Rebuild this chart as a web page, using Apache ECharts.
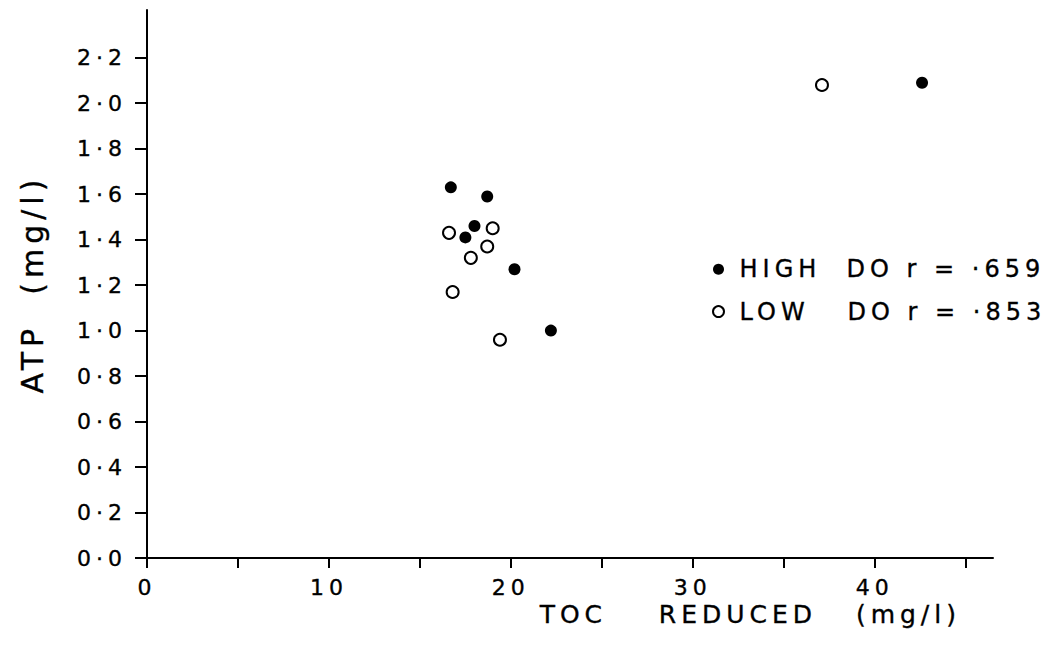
<!DOCTYPE html>
<html>
<head>
<meta charset="utf-8">
<style>
  html, body { margin: 0; padding: 0; background: #fff; }
  #chart { width: 1049px; height: 655px; }
  /* the original lettering is widely spaced */
  #chart text { letter-spacing: 5px; }
</style>
<script src="https://cdn.jsdelivr.net/npm/echarts@6/dist/echarts.min.js"></script>
</head>
<body>
<div id="chart"></div>
<script>
// values
const highDoToc = [16.7, 18.7, 18.0, 17.5, 20.2, 22.2, 42.6]
const highDoAtp = [1.63, 1.59, 1.46, 1.41, 1.27, 1.00, 2.09]
const lowDoToc = [16.6, 19.0, 18.7, 17.8, 16.8, 19.4, 37.1]
const lowDoAtp = [1.43, 1.45, 1.37, 1.32, 1.17, 0.96, 2.08]

const xTicks = [0, 5, 10, 15, 20, 25, 30, 35, 40, 45]
const xLabels = [0, 10, 20, 30, 40]
const yTicks = [0, 0.2, 0.4, 0.6, 0.8, 1.0, 1.2, 1.4, 1.6, 1.8, 2.0, 2.2]

const highName = 'HIGH  DO r = ·659'
const lowName = 'LOW   DO r = ·853'

const ink = '#000'
const font = 'DejaVu Sans'
// a little heavier than the plain font, like the pen lettering
const pen = { color: ink, fontFamily: font, textBorderColor: ink, textBorderWidth: 0.35 }

const chart = echarts.init(document.getElementById('chart'), null, { renderer: 'svg' })

const pairs = (xs, ys) => xs.map((x, i) => [x, ys[i]])

chart.setOption({
  animation: false,
  backgroundColor: '#fff',
  textStyle: { fontFamily: font, color: ink },
  grid: { left: 147, right: 56, top: 10, bottom: 97 },
  legend: {
    orient: 'vertical',
    left: 707,
    top: 252,
    itemGap: 18,
    itemWidth: 12,
    itemHeight: 11,
    textStyle: { ...pen, fontSize: 24, padding: [0, 0, 0, 10] },
    data: [
      { name: highName, icon: 'circle' },
      { name: lowName, icon: 'emptyCircle' }
    ]
  },
  xAxis: {
    type: 'value',
    min: 0,
    max: 46.5,
    name: 'TOC    REDUCED   (mg/l)',
    nameLocation: 'end',
    nameGap: -32,
    nameTextStyle: {
      ...pen, fontSize: 25,
      align: 'right', verticalAlign: 'top', padding: [44, 0, 0, 0]
    },
    splitLine: { show: false },
    axisLine: { lineStyle: { color: ink, width: 2 } },
    axisTick: { customValues: xTicks, length: 10, lineStyle: { color: ink, width: 2 } },
    axisLabel: { ...pen, customValues: xLabels, margin: 18, fontSize: 22 }
  },
  yAxis: {
    type: 'value',
    min: 0,
    max: 2.41,
    name: 'ATP  (mg/l)',
    nameLocation: 'middle',
    nameRotate: 90,
    nameGap: 100,
    nameTextStyle: { ...pen, fontSize: 30 },
    splitLine: { show: false },
    axisLine: { lineStyle: { color: ink, width: 2 } },
    axisTick: { customValues: yTicks, length: 12, lineStyle: { color: ink, width: 2 } },
    axisLabel: {
      ...pen,
      customValues: yTicks,
      margin: 20,
      fontSize: 22,
      formatter: v => v.toFixed(1).replace('.', '·')
    }
  },
  series: [
    {
      name: highName,
      type: 'scatter',
      symbol: 'circle',
      symbolSize: 12,
      itemStyle: { color: ink, opacity: 1 },
      data: pairs(highDoToc, highDoAtp)
    },
    {
      name: lowName,
      type: 'scatter',
      symbol: 'emptyCircle',
      symbolSize: 12,
      itemStyle: { color: ink, borderColor: ink, borderWidth: 3, opacity: 1 },
      data: pairs(lowDoToc, lowDoAtp)
    }
  ]
})
</script>
</body>
</html>
